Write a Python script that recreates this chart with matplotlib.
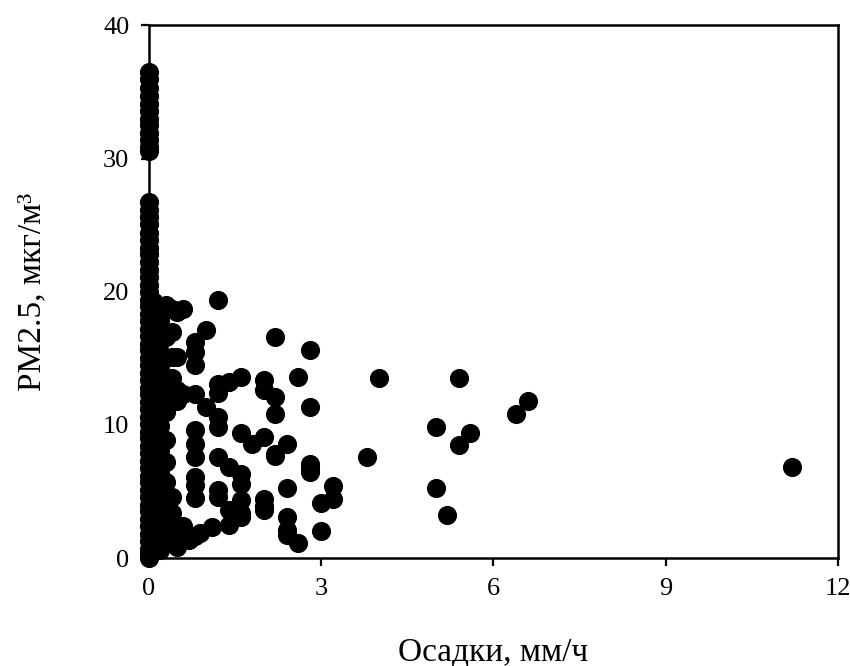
import matplotlib
matplotlib.use('Agg')
import matplotlib.pyplot as plt

# precipitation (mm/h) and PM2.5 (ug/m3)
zero_rain_pm = [
	36.5, 36.0, 35.3, 34.7, 34.1, 33.6, 33.0, 32.5, 31.9, 31.4, 30.9, 30.6,
	26.7, 26.1, 25.6, 25.1, 24.4, 23.9, 23.3, 22.8, 22.2, 21.6, 21.1, 20.5,
	20.0, 19.4, 18.9, 18.3, 17.8, 17.2, 16.7, 16.1, 15.6, 15.0, 14.5, 13.9,
	13.4, 12.8, 12.3, 11.7, 11.2, 10.6, 10.1, 9.5, 9.0, 8.4, 7.9, 7.3, 6.8,
	6.2, 5.7, 5.1, 4.6, 4.0, 3.5, 2.9, 2.4, 1.8, 1.3, 0.7, 0.3, 0.0,
]

rain_x = [
	0.1, 0.1, 0.1, 0.1, 0.1, 0.1, 0.1, 0.1, 0.1, 0.1, 0.1, 0.1, 0.1, 0.1,
	0.1, 0.1, 0.1, 0.1, 0.1, 0.1,
	0.2, 0.2, 0.2, 0.2, 0.2, 0.2, 0.2, 0.2, 0.2, 0.2, 0.2, 0.2, 0.2, 0.2,
	0.2, 0.2, 0.2, 0.2,
	0.3, 0.3, 0.3, 0.3, 0.3, 0.3, 0.3, 0.3, 0.3, 0.3,
	0.4, 0.4, 0.4, 0.4, 0.4, 0.4, 0.4, 0.4, 0.4, 0.4,
	0.5, 0.5, 0.5, 0.5, 0.5, 0.6, 0.6, 0.6, 0.7,
	0.8, 0.8, 0.8, 0.8, 0.8, 0.8, 0.8, 0.8, 0.8, 0.8, 0.8, 0.9, 1.0, 1.0,
	1.1, 1.2, 1.2, 1.2, 1.2, 1.2, 1.2, 1.2, 1.2, 1.4, 1.4, 1.4, 1.4,
	1.6, 1.6, 1.6, 1.6, 1.6, 1.6, 1.6, 1.8,
	2.0, 2.0, 2.0, 2.0, 2.0, 2.0, 2.2, 2.2, 2.2, 2.2, 2.2,
	2.4, 2.4, 2.4, 2.4, 2.4, 2.6, 2.6, 2.8, 2.8, 2.8, 2.8, 2.8,
	3.0, 3.0, 3.2, 3.2, 3.8, 4.0,
	5.0, 5.0, 5.2, 5.4, 5.4, 5.6, 6.4, 6.6, 11.2,
]
rain_pm = [
	19.2, 18.4, 17.5, 16.6, 15.8, 14.9, 14.0, 13.1, 12.2, 11.3, 10.4, 9.5,
	8.6, 7.7, 6.8, 5.9, 4.9, 3.9, 2.8, 1.5,
	18.8, 17.9, 17.0, 16.2, 15.4, 14.4, 13.6, 12.7, 11.8, 10.9, 9.9, 8.1,
	6.4, 5.0, 3.7, 2.5, 1.4, 0.6,
	19.0, 16.6, 13.5, 12.1, 11.0, 8.85, 7.2, 5.7, 2.6, 1.1,
	18.7, 17.0, 15.1, 13.5, 12.6, 11.7, 4.6, 3.35, 2.2, 1.6,
	18.5, 15.1, 12.6, 11.8, 0.85, 18.7, 12.3, 2.4, 1.35,
	16.2, 15.5, 14.5, 12.35, 9.6, 8.6, 7.6, 6.1, 5.5, 4.5, 1.65, 1.85, 17.1, 11.35,
	2.35, 19.35, 13.1, 12.4, 10.6, 9.85, 7.6, 5.1, 4.6, 13.2, 6.85, 3.6, 2.5,
	13.6, 9.4, 6.35, 5.6, 4.35, 3.35, 3.1, 8.6,
	13.4, 12.6, 9.1, 4.4, 3.9, 3.6, 16.6, 12.1, 10.85, 7.8, 7.7,
	8.6, 5.3, 3.1, 2.1, 1.7, 13.6, 1.1, 15.6, 11.35, 7.1, 6.5, 6.8,
	4.1, 2.0, 5.4, 4.4, 7.6, 13.5,
	9.85, 5.3, 3.2, 13.5, 8.5, 9.4, 10.8, 11.8, 6.85,
]

x_ticks = [0, 3, 6, 9, 12]
y_ticks = [0, 10, 20, 30, 40]

plt.rcParams['font.family'] = ['Liberation Serif', 'DejaVu Serif']

fig = plt.figure(figsize=(8.5, 6.66), dpi=100)
ax = fig.add_axes([0.175, 0.162, 0.811, 0.800])

ax.scatter([0] * len(zero_rain_pm), zero_rain_pm, s=190, c='black',
	edgecolors='black', linewidths=0, clip_on=False, zorder=3)
ax.scatter(rain_x, rain_pm, s=190, c='black', edgecolors='black',
	linewidths=0, clip_on=False, zorder=3)

ax.set_xlim(0, 12)
ax.set_ylim(0, 40)
ax.set_xticks(x_ticks)
ax.set_yticks(y_ticks)
ax.tick_params(direction='out', length=6, width=1.6, labelsize=19, pad=8,
	colors='black')
for spine in ax.spines.values():
	spine.set_linewidth(1.8)
	spine.set_color('black')
	spine.set_zorder(2)

ax.set_xlabel('Осадки, мм/ч', fontsize=24, labelpad=27)
ax.set_ylabel('PM2.5, мкг/м³', fontsize=24, labelpad=40)

fig.savefig('out.png', dpi=100)
